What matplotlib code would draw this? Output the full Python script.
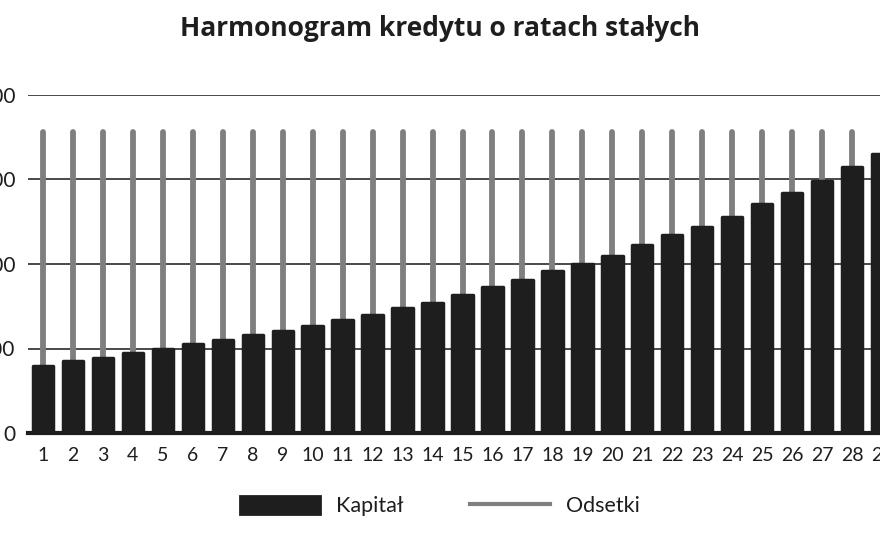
import matplotlib
matplotlib.use("Agg")
import matplotlib.pyplot as plt
from matplotlib.patches import Patch
from matplotlib.lines import Line2D
import numpy as np

plt.rcParams['font.family'] = ['Lato', 'DejaVu Sans']

# --- data ---
periods = list(range(1, 30))
kapital = [396, 425, 444, 473, 496, 527, 548, 579, 604, 635,
           666, 699, 739, 768, 815, 863, 907, 956, 1002, 1049,
           1110, 1174, 1218, 1278, 1356, 1423, 1491, 1574, 1651]
rata = 1780  # constant installment
odsetki = [rata - k for k in kapital]
y_ticks = [0, 500, 1000, 1500, 2000]

title = "Harmonogram kredytu o ratach stałych"
black = "#1e1e1e"
gray = "#7f7f7f"

fig = plt.figure(figsize=(8.8, 5.4), dpi=100)
ax = fig.add_axes([28/880, 1-433/540, 869/880, (433-95)/540])

x = np.array(periods)
k = np.array(kapital)
o = np.array(odsetki)

# interest drawn as thin gray stem on top of the capital bar
ax.vlines(x, k, k + o, color=gray, linewidth=4.2, capstyle='round', zorder=2)
ax.bar(x, k, width=0.68, color=black, edgecolor=black, linewidth=2.5,
       joinstyle='round', zorder=3)

ax.set_xlim(0.5, 29.5)
ax.set_ylim(0, 2000)
ax.set_yticks(y_ticks)
ax.set_yticklabels([str(v) for v in y_ticks])
ax.set_xticks(periods)
ax.set_xticklabels([str(p) for p in periods])
for s in ax.spines.values():
    s.set_visible(False)
ax.grid(axis='y', color='#3a3a3a', linewidth=1.3, zorder=1)
ax.axhline(0, color=black, linewidth=3, zorder=4, clip_on=False)
ax.tick_params(axis='both', length=0)
ax.tick_params(axis='y', labelsize=15, pad=9, labelcolor=black)
ax.tick_params(axis='x', labelsize=14, pad=10, labelcolor=black)
ax.set_axisbelow(True)

fig.text(0.5, 1-29/540, title, ha='center', va='center', fontsize=19,
         fontweight='bold', color=black, family=['Open Sans', 'DejaVu Sans'])

handles = [Patch(facecolor=black, edgecolor=black, joinstyle='round', linewidth=2),
           Line2D([0], [0], color=gray, linewidth=3)]
fig.legend(handles, ["Kapitał", "Odsetki"], loc='center', bbox_to_anchor=(0.5, 1-506/540),
           ncol=2, frameon=False, fontsize=15.5, handlelength=3.7, handleheight=0.95,
           handletextpad=0.75, columnspacing=3.1, labelcolor=black)

fig.savefig("out.png", dpi=100)
